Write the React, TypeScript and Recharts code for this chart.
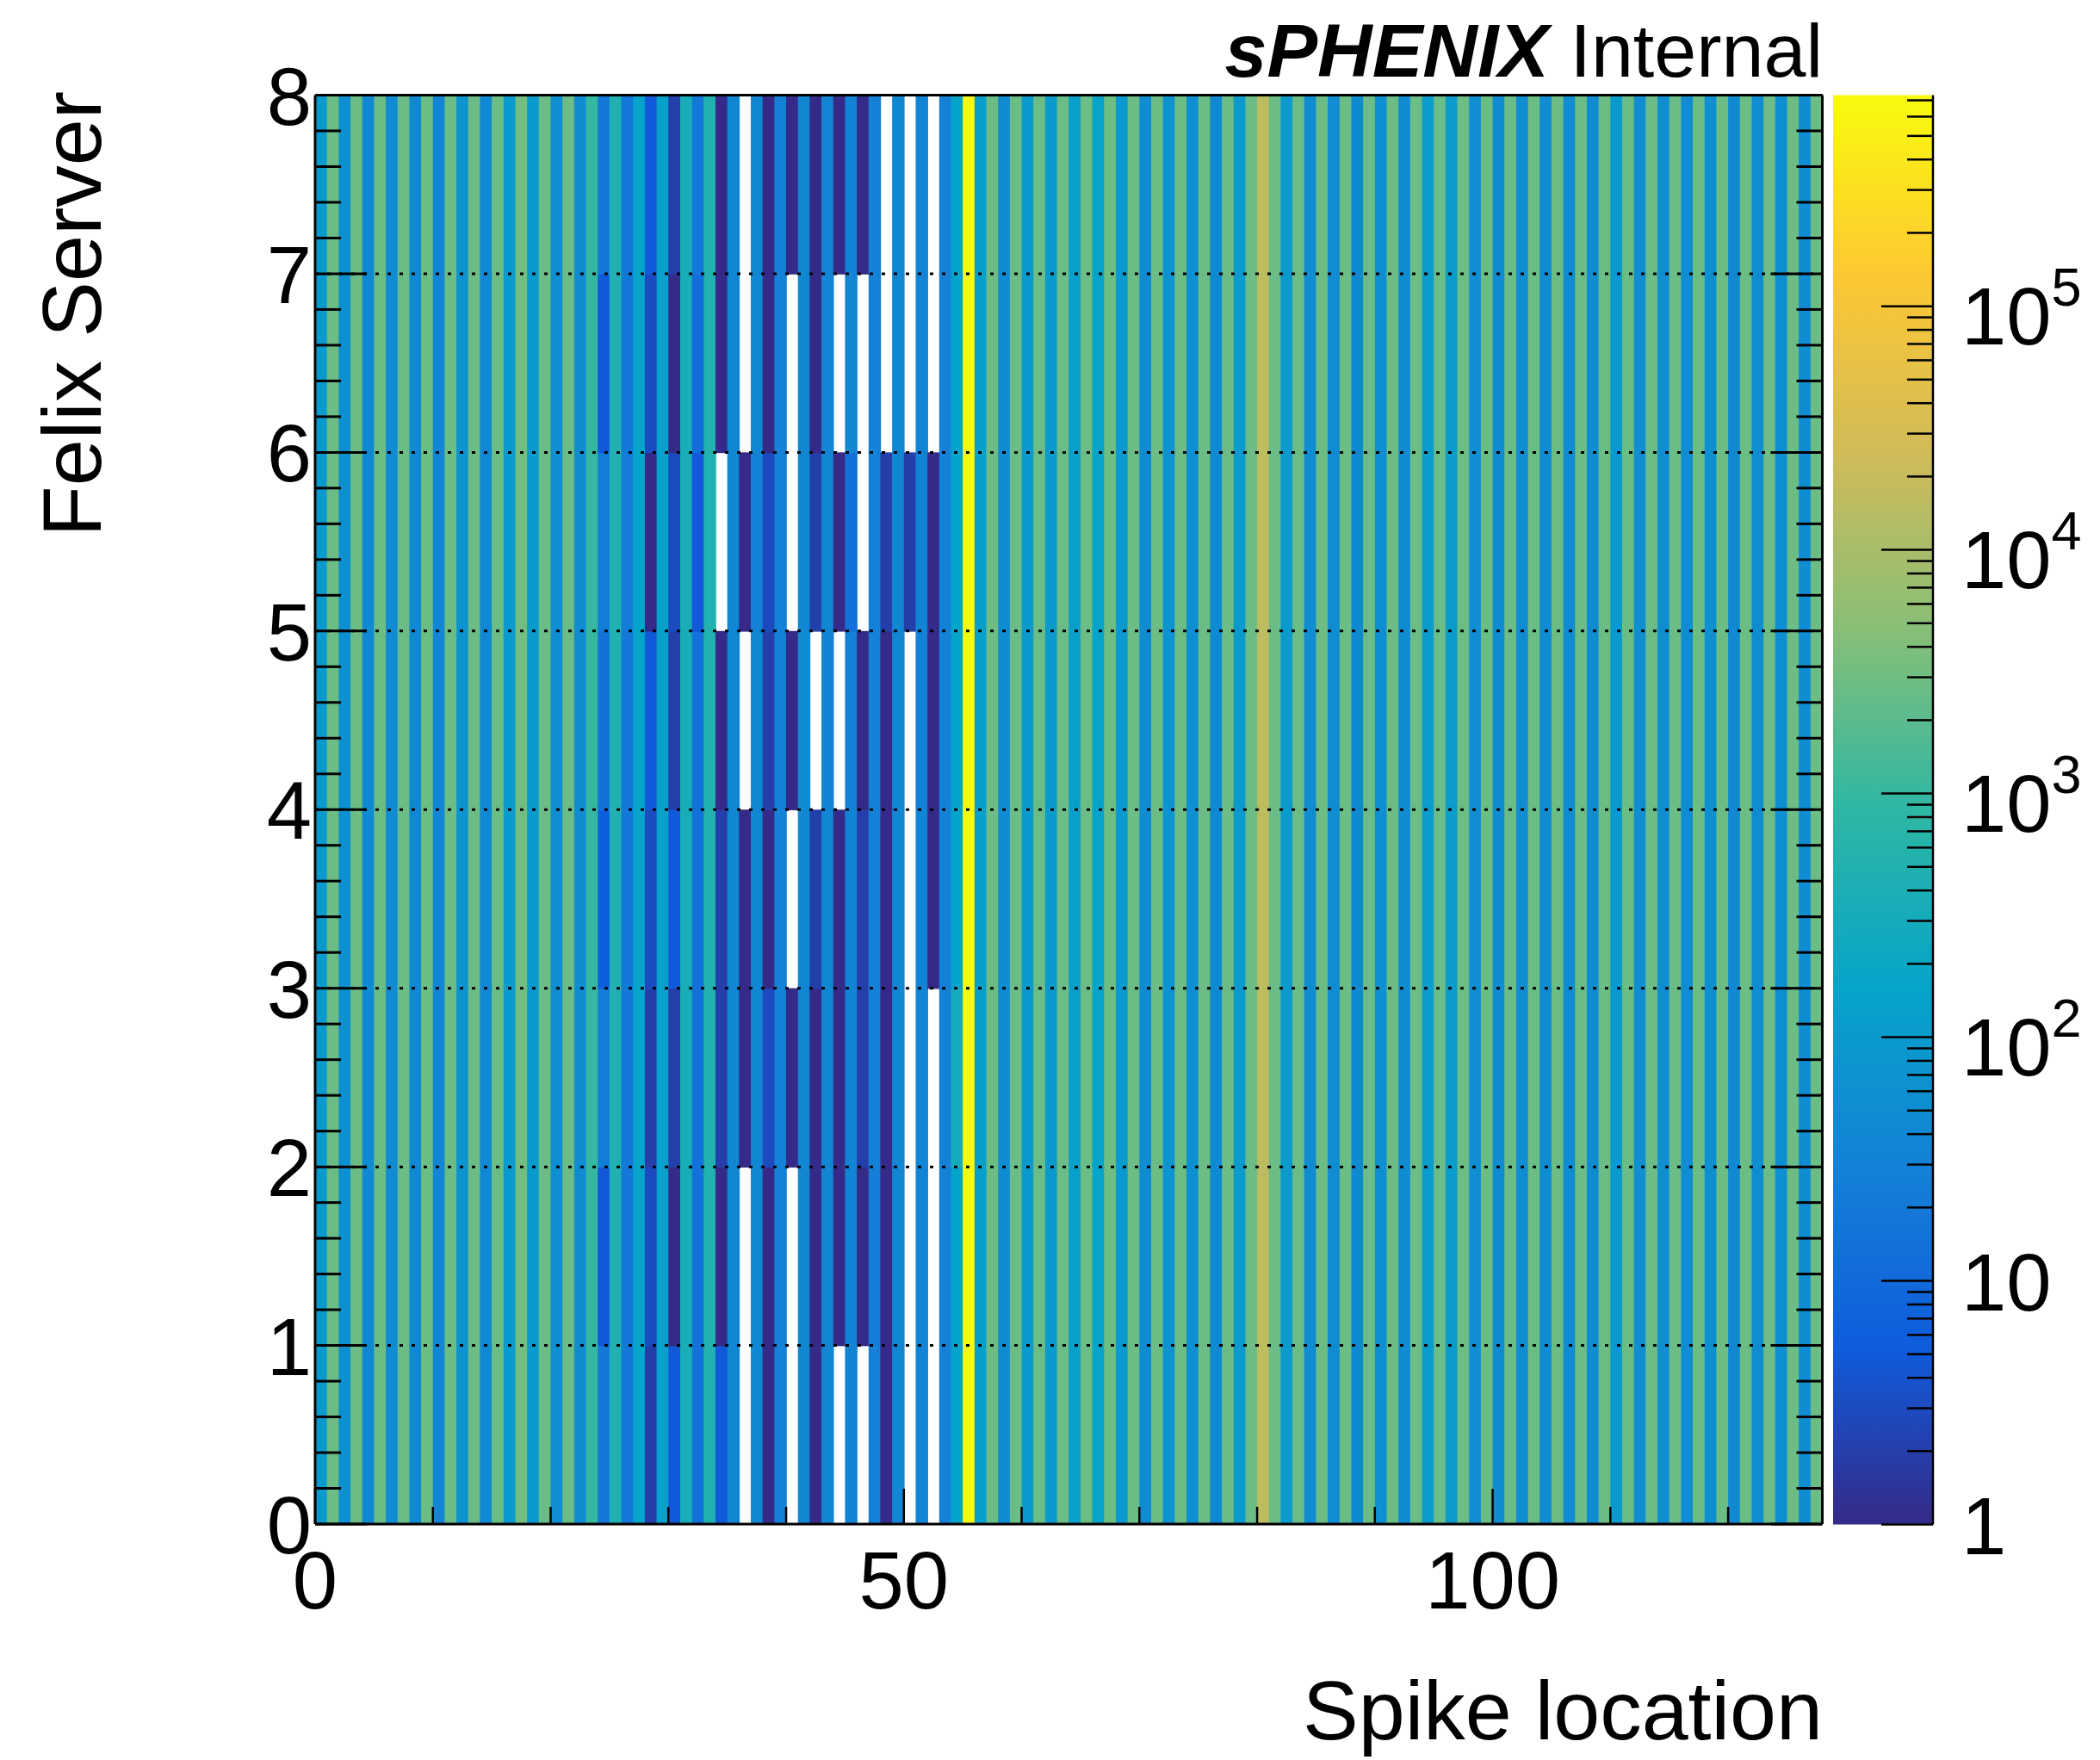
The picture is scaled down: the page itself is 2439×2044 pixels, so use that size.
import React from 'react'
import { ScatterChart, Scatter, XAxis, YAxis, ReferenceLine } from 'recharts'

const W = 2439
const H = 2044
const PLOT_LEFT = 366
const PLOT_RIGHT = 2116.5
const PLOT_TOP = 110.5
const PLOT_BOTTOM = 1770
const N_X = 128
const N_Y = 8
const BIN_W = (PLOT_RIGHT - PLOT_LEFT) / N_X
const ROW_H = (PLOT_BOTTOM - PLOT_TOP) / N_Y

const FONT = "'Liberation Sans', Arial, Helvetica, sans-serif"

// z range of the colour axis (log)
const Z_MIN = 1
const Z_MAX = 7.35e5

// bins 0-22, same in every felix server
const LEFT = [100, 2700, 60, 2700, 45, 2700, 50, 2700, 45, 2700, 38, 2700, 70, 2700, 42, 2700, 100, 3200, 100, 2700, 55, 2700, 50]

// bins 23-56, one list per felix server
const MID_0 = [1000, 20, 500, 20, 150, 2, 140, 5, 350, 15, 500, 5, 40, 0, 40, 1, 30, 0, 40, 1, 40, 0, 35, 0, 30, 1, 40, 0, 35, 0, 30, 150, 700000, 130]
const MID_1 = [1000, 5, 500, 20, 150, 3, 140, 1, 350, 15, 500, 1, 40, 0, 40, 1, 30, 0, 40, 1, 40, 1, 35, 1, 25, 1, 40, 0, 35, 0, 30, 150, 700000, 130]
const MID_2 = [1000, 25, 500, 20, 150, 2, 140, 2, 350, 15, 500, 2, 40, 1, 40, 3, 30, 1, 40, 1, 40, 1, 35, 2, 30, 1, 40, 0, 35, 0, 30, 300, 700000, 130]
const MID_3 = [1000, 6, 500, 20, 150, 3, 140, 5, 350, 15, 500, 2, 40, 1, 40, 1, 30, 0, 40, 2, 40, 1, 35, 2, 30, 1, 40, 0, 35, 1, 30, 150, 700000, 130]
const MID_4 = [1000, 15, 500, 20, 150, 5, 140, 2, 350, 15, 500, 1, 40, 0, 40, 2, 30, 1, 50, 0, 35, 0, 30, 1, 30, 1, 40, 0, 30, 1, 30, 150, 700000, 130]
const MID_5 = [1000, 25, 500, 25, 150, 1, 140, 3, 350, 5, 500, 0, 40, 1, 30, 3, 30, 0, 40, 2, 40, 1, 15, 0, 30, 2, 40, 2, 35, 1, 30, 150, 700000, 130]
const MID_6 = [1000, 5, 500, 20, 150, 3, 140, 1, 350, 12, 500, 1, 40, 0, 40, 1, 30, 0, 40, 1, 38, 0, 40, 0, 30, 0, 40, 0, 35, 0, 30, 150, 700000, 130]
const MID_7 = [1000, 20, 500, 20, 150, 5, 140, 2, 350, 20, 500, 1, 40, 0, 40, 1, 30, 1, 40, 1, 38, 1, 35, 1, 30, 0, 40, 0, 35, 0, 30, 150, 700000, 130]

// bins 57-127, same in every felix server
const RIGHT = [
  2700, 50, 2700, 100, 2700, 100, 2700, 130, 2700, 150,
  3000, 100, 2700, 50, 2700, 70, 2700, 60, 2700, 45,
  2700, 100, 2700, 16000, 2700, 100, 2700, 50, 2700, 50,
  2700, 45, 2700, 60, 2700, 50, 2700, 110, 2700, 110,
  2700, 55, 2700, 50, 2700, 50, 2700, 50, 2700, 50,
  2700, 50, 2700, 100, 2700, 55, 2700, 55, 2700, 50,
  2700, 60, 2700, 45, 2700, 50, 2700, 60, 2700, 50,
  2700,
]

const ROWS = [
  [...LEFT, ...MID_0, ...RIGHT],
  [...LEFT, ...MID_1, ...RIGHT],
  [...LEFT, ...MID_2, ...RIGHT],
  [...LEFT, ...MID_3, ...RIGHT],
  [...LEFT, ...MID_4, ...RIGHT],
  [...LEFT, ...MID_5, ...RIGHT],
  [...LEFT, ...MID_6, ...RIGHT],
  [...LEFT, ...MID_7, ...RIGHT],
]

const X_TICKS = [0, 10, 20, 30, 40, 50, 60, 70, 80, 90, 100, 110, 120]
const X_LABELS = [0, 50, 100]
const Y_LABELS = [0, 1, 2, 3, 4, 5, 6, 7, 8]
const Y_TICKS = Array.from({ length: 41 }, (_, i) => +(i * 0.2).toFixed(1))
const GRID_Y = [1, 2, 3, 4, 5, 6, 7]
const CB_DECADES = [0, 1, 2, 3, 4, 5]

// ROOT kBird palette
const P_STOPS = [0.0, 0.125, 0.25, 0.375, 0.5, 0.625, 0.75, 0.875, 1.0]
const P_RED = [0.2082, 0.0592, 0.078, 0.0232, 0.1802, 0.5301, 0.8186, 0.9956, 0.9764]
const P_GREEN = [0.1664, 0.3599, 0.5041, 0.6419, 0.7178, 0.7492, 0.7328, 0.7862, 0.9832]
const P_BLUE = [0.5293, 0.8684, 0.8385, 0.7914, 0.6425, 0.4662, 0.3499, 0.1968, 0.0539]

function paletteAt(f: number) {
  const t = Math.max(0, Math.min(1, f))
  let i = 0
  while (i < P_STOPS.length - 2 && t > P_STOPS[i + 1]) i++
  const u = (t - P_STOPS[i]) / (P_STOPS[i + 1] - P_STOPS[i])
  const c = (a: number[]) => Math.round(255 * (a[i] + u * (a[i + 1] - a[i])))
  return `rgb(${c(P_RED)},${c(P_GREEN)},${c(P_BLUE)})`
}

function zColor(v: number) {
  return paletteAt(Math.log10(v / Z_MIN) / Math.log10(Z_MAX / Z_MIN))
}

function CellShape(props: any) {
  const { cx, cy, payload } = props
  if (!payload || !payload.v) return <g />
  return (
    <rect
      x={cx - BIN_W / 2}
      y={cy - ROW_H / 2}
      width={BIN_W + 0.8}
      height={ROW_H + 0.8}
      fill={zColor(payload.v)}
    />
  )
}

function BottomTick(props: any) {
  const { x, y, payload } = props
  const v = payload.value
  const major = X_LABELS.includes(v)
  return (
    <g>
      <line x1={x} x2={x} y1={y} y2={y - (major ? 41 : 20)} stroke="#000" strokeWidth={2.5} />
      {major && (
        <text x={x} y={y + 98} textAnchor="middle" fontSize={94} fontFamily={FONT} fill="#000">
          {v}
        </text>
      )}
    </g>
  )
}

function TopTick(props: any) {
  const { x, y, payload } = props
  const major = X_LABELS.includes(payload.value)
  return <line x1={x} x2={x} y1={y} y2={y + (major ? 41 : 20)} stroke="#000" strokeWidth={2.5} />
}

function LeftTick(props: any) {
  const { x, y, payload } = props
  const v = payload.value
  const major = Y_LABELS.includes(Math.round(v)) && Math.abs(v - Math.round(v)) < 1e-6
  return (
    <g>
      <line x1={x} x2={x + (major ? 60 : 30)} y1={y} y2={y} stroke="#000" strokeWidth={3} />
      {major && (
        <text x={x - 4} y={y + 34} textAnchor="end" fontSize={94} fontFamily={FONT} fill="#000">
          {Math.round(v)}
        </text>
      )}
    </g>
  )
}

function RightTick(props: any) {
  const { x, y, payload } = props
  const v = payload.value
  const major = Math.abs(v - Math.round(v)) < 1e-6
  return <line x1={x} x2={x - (major ? 60 : 30)} y1={y} y2={y} stroke="#000" strokeWidth={3} />
}

const CB_LEFT = 2129
const CB_RIGHT = 2245
const CB_TOP = 110.5
const CB_BOTTOM = 1770.5
const cbY = (v: number) => CB_BOTTOM - (Math.log10(v / Z_MIN) / Math.log10(Z_MAX / Z_MIN)) * (CB_BOTTOM - CB_TOP)

function ColorBar() {
  const minors: number[] = []
  CB_DECADES.forEach((d) => {
    for (let m = 2; m <= 9; m++) {
      const v = m * Math.pow(10, d)
      if (v < Z_MAX) minors.push(v)
    }
  })
  return (
    <g>
      <defs>
        <linearGradient id="bird" x1="0" y1="1" x2="0" y2="0">
          {P_STOPS.map((s) => (
            <stop key={s} offset={s} stopColor={paletteAt(s)} />
          ))}
        </linearGradient>
      </defs>
      <rect x={CB_LEFT} y={CB_TOP} width={CB_RIGHT - CB_LEFT} height={CB_BOTTOM - CB_TOP} fill="url(#bird)" />
      <line x1={CB_RIGHT} x2={CB_RIGHT} y1={CB_TOP} y2={CB_BOTTOM} stroke="#000" strokeWidth={2.5} />
      {minors.map((v) => (
        <line key={v} x1={CB_RIGHT} x2={CB_RIGHT - 30} y1={cbY(v)} y2={cbY(v)} stroke="#000" strokeWidth={2.5} />
      ))}
      {CB_DECADES.map((d) => {
        const y = cbY(Math.pow(10, d))
        return (
          <g key={d}>
            <line x1={CB_RIGHT} x2={CB_RIGHT - 60} y1={y} y2={y} stroke="#000" strokeWidth={2.5} />
            {d < 2 ? (
              <text x={2278} y={y + 34} fontSize={94} fontFamily={FONT} fill="#000">
                {d === 0 ? '1' : '10'}
              </text>
            ) : (
              <text x={2278} y={y + 44} fontSize={94} fontFamily={FONT} fill="#000">
                10
                <tspan dy={-45} fontSize={63}>
                  {d}
                </tspan>
              </text>
            )}
          </g>
        )
      })}
    </g>
  )
}

export default function App() {
  return (
    <div style={{ position: 'absolute', left: 0, top: 0, width: W, height: H, background: '#fff' }}>
      <div style={{ position: 'absolute', left: 0, top: 0 }}>
        <ScatterChart
          width={W}
          height={H}
          margin={{ top: PLOT_TOP - 1, right: W - PLOT_RIGHT - 1, bottom: H - PLOT_BOTTOM - 1, left: PLOT_LEFT - 1 }}
        >
          <XAxis
            xAxisId="b"
            type="number"
            dataKey="x"
            domain={[0, N_X]}
            allowDataOverflow
            ticks={X_TICKS}
            interval={0}
            height={1}
            tickSize={0}
            tickMargin={0}
            tickLine={false}
            axisLine={{ stroke: '#000', strokeWidth: 3 }}
            tick={<BottomTick />}
          />
          <XAxis
            xAxisId="t"
            orientation="top"
            type="number"
            domain={[0, N_X]}
            allowDataOverflow
            ticks={X_TICKS}
            interval={0}
            height={1}
            tickSize={0}
            tickMargin={0}
            tickLine={false}
            axisLine={{ stroke: '#000', strokeWidth: 3 }}
            tick={<TopTick />}
          />
          <YAxis
            yAxisId="l"
            type="number"
            dataKey="y"
            domain={[0, N_Y]}
            allowDataOverflow
            ticks={Y_TICKS}
            interval={0}
            width={1}
            tickSize={0}
            tickMargin={0}
            tickLine={false}
            axisLine={{ stroke: '#000', strokeWidth: 3 }}
            tick={<LeftTick />}
          />
          <YAxis
            yAxisId="r"
            orientation="right"
            type="number"
            domain={[0, N_Y]}
            allowDataOverflow
            ticks={Y_TICKS}
            interval={0}
            width={1}
            tickSize={0}
            tickMargin={0}
            tickLine={false}
            axisLine={{ stroke: '#000', strokeWidth: 3 }}
            tick={<RightTick />}
          />
          {ROWS.map((row, r) => (
            <Scatter
              key={r}
              xAxisId="b"
              yAxisId="l"
              data={row.map((v, i) => ({ x: i + 0.5, y: r + 0.5, v }))}
              shape={CellShape}
              isAnimationActive={false}
              zIndex={100}
            />
          ))}
          {GRID_Y.map((v) => (
            <ReferenceLine
              key={v}
              xAxisId="b"
              yAxisId="l"
              y={v}
              stroke="#000"
              strokeWidth={3}
              strokeDasharray="4 10"
              zIndex={450}
            />
          ))}
        </ScatterChart>
      </div>
      <svg
        width={W}
        height={H}
        style={{ position: 'absolute', left: 0, top: 0, pointerEvents: 'none' }}
        fontFamily={FONT}
      >
        <ColorBar />
        <text x={2117} y={89} textAnchor="end" fontSize={88} fill="#000">
          <tspan fontWeight="bold" fontStyle="italic">sPHENIX</tspan>
          {' Internal'}
        </text>
        <text x={2117} y={2020} textAnchor="end" fontSize={97} fill="#000">
          Spike location
        </text>
        <text x={117} y={106} textAnchor="end" fontSize={97} fill="#000" transform="rotate(-90 117 106)">
          Felix Server
        </text>
      </svg>
    </div>
  )
}
